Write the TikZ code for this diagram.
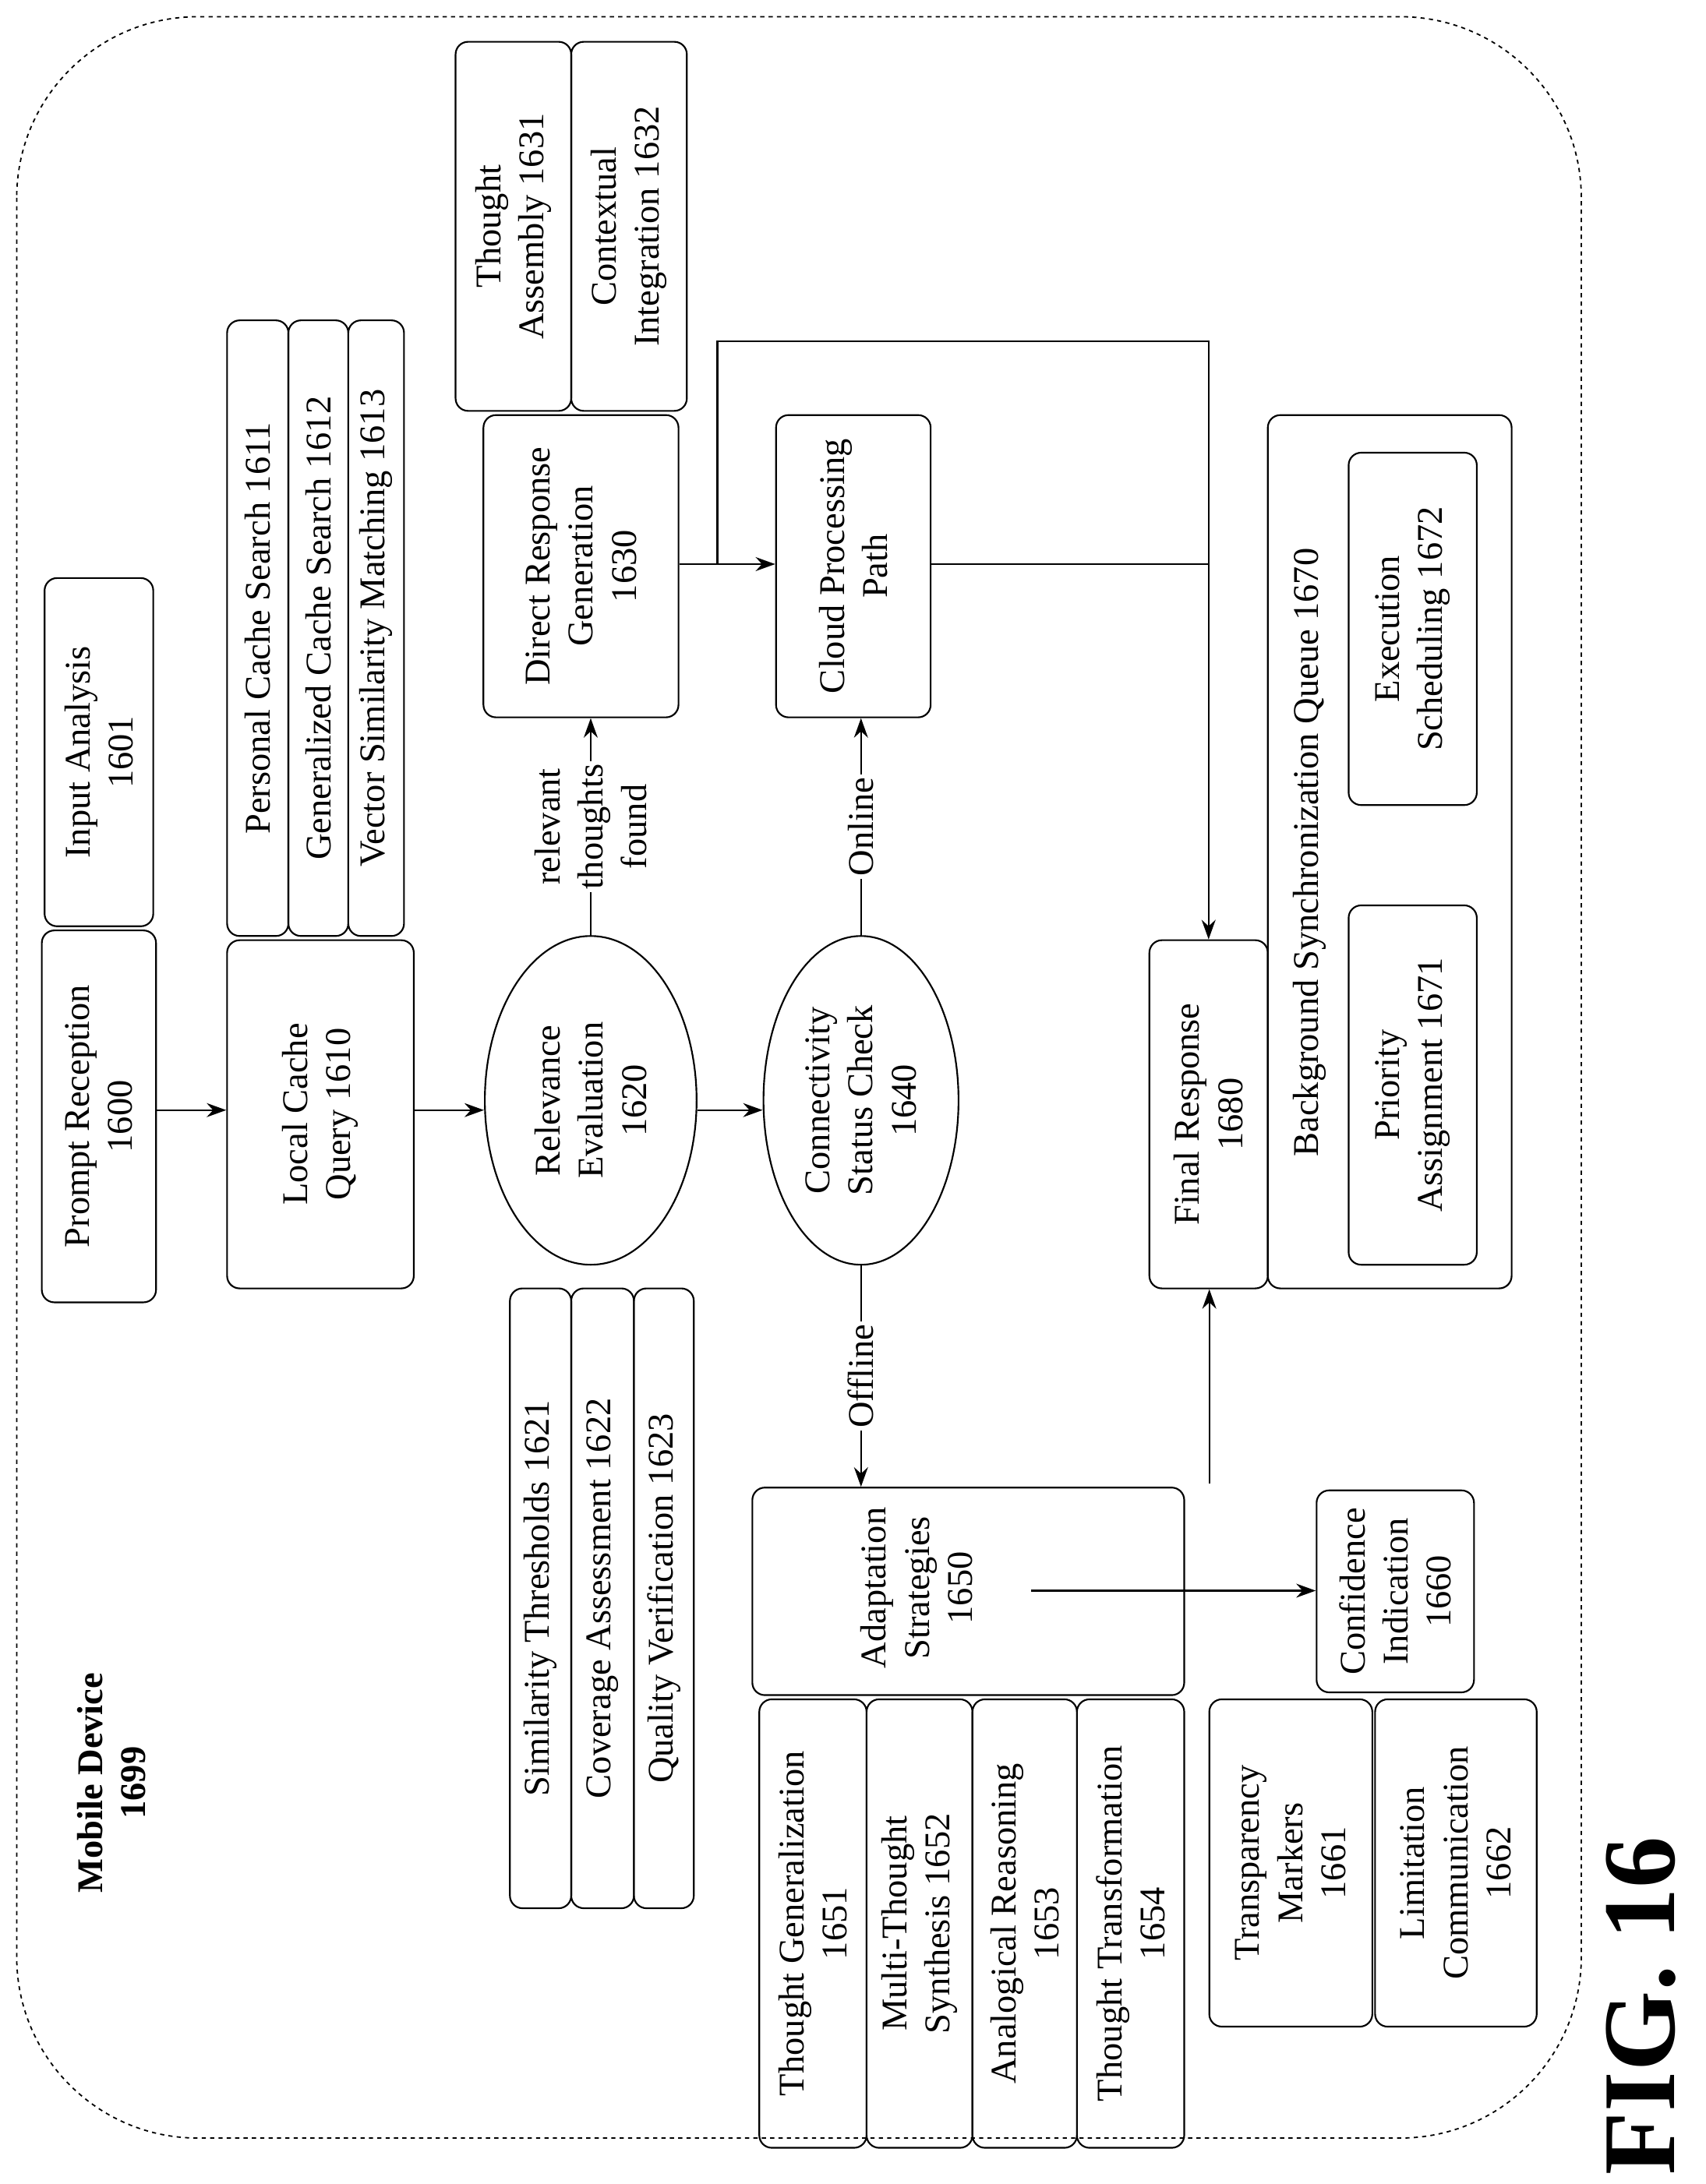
\documentclass[tikz,border=0pt]{standalone}
\usepackage{fontspec}
\setmainfont{Liberation Serif}
\usetikzlibrary{shapes.geometric,arrows.meta}
\begin{document}
\begin{tikzpicture}[x=1pt,y=-1pt,
  box/.style={draw,rounded corners=9pt,rotate=90,align=center,inner sep=1pt,font=\fontsize{26}{31}\selectfont,line width=1.2pt},
  ell/.style={draw,ellipse,rotate=90,align=center,inner sep=0pt,font=\fontsize{26}{31}\selectfont,line width=1.2pt},
  lbl/.style={rotate=90,align=center,font=\fontsize{26}{31}\selectfont,fill=white,inner sep=2pt},
  arr/.style={-{Stealth[length=14pt,width=10pt]},line width=1.3pt},
  ln/.style={line width=1.3pt}]
\newcommand\bx[6]{\node[box,minimum width={#5-#3},minimum height={#4-#2}] (#1) at ({(#2+#4)/2},{(#3+#5)/2}) {#6};}
\useasboundingbox (0,0) rectangle (1224,1568);
\draw[dashed,line width=1pt,rounded corners=130pt] (12,12) rectangle (1135,1535);
\node[rotate=90,align=center,font=\fontsize{26}{31}\selectfont\bfseries] (md) at (80,1280) {Mobile Device\\1699};
\node[rotate=90,font=\fontsize{74}{84}\selectfont\bfseries] (fig) at (1178,1440) {FIG. 16};
\bx{p1600}{30}{668}{112}{935}{Prompt Reception\\1600}
\bx{p1601}{32}{415}{110}{665}{Input Analysis\\1601}
\bx{p1610}{163}{675}{297}{925}{Local Cache\\Query 1610}
\bx{p1611}{163}{230}{207}{672}{Personal Cache Search 1611}
\bx{p1612}{207}{230}{250}{672}{Generalized Cache Search 1612}
\bx{p1613}{250}{230}{290}{672}{Vector Similarity Matching 1613}
\node[ell,minimum width=236pt,minimum height=152pt] (p1620) at (424,790) {Relevance\\Evaluation\\1620};
\bx{p1621}{366}{925}{410}{1370}{Similarity Thresholds 1621}
\bx{p1622}{410}{925}{455}{1370}{Coverage Assessment 1622}
\bx{p1623}{455}{925}{498}{1370}{Quality Verification 1623}
\bx{p1630}{347}{298}{487}{515}{Direct Response\\Generation\\1630}
\bx{p1631}{327}{30}{410}{295}{Thought\\Assembly 1631}
\bx{p1632}{410}{30}{493}{295}{Contextual\\Integration 1632}
\node[ell,minimum width=236pt,minimum height=140pt] (p1640) at (618,790) {Connectivity\\Status Check\\1640};
\bx{pcloud}{557}{298}{668}{515}{Cloud Processing\\Path}
\bx{p1650}{540}{1068}{850}{1217}{}
\node[rotate=90,align=center,font=\fontsize{26}{31}\selectfont] (t1650) at (658,1140) {Adaptation\\Strategies\\1650};
\bx{p1651}{545}{1220}{622}{1542}{Thought Generalization\\1651}
\bx{p1652}{622}{1220}{698}{1542}{Multi-Thought\\Synthesis 1652}
\bx{p1653}{698}{1220}{773}{1542}{Analogical Reasoning\\1653}
\bx{p1654}{773}{1220}{850}{1542}{Thought Transformation\\1654}
\bx{p1660}{945}{1070}{1058}{1215}{Confidence\\Indication\\1660}
\bx{p1661}{868}{1220}{985}{1455}{Transparency\\Markers\\1661}
\bx{p1662}{987}{1220}{1103}{1455}{Limitation\\Communication\\1662}
\bx{p1680}{825}{675}{910}{925}{Final Response\\1680}
\bx{p1670}{910}{298}{1085}{925}{}
\node[rotate=90,font=\fontsize{26}{31}\selectfont] (t1670) at (940,612) {Background Synchronization Queue 1670};
\bx{p1671}{968}{650}{1060}{908}{Priority\\Assignment 1671}
\bx{p1672}{968}{325}{1060}{578}{Execution\\Scheduling 1672}
% connectors
\draw[arr] (p1600.south |- 0,797) -- (p1610.north |- 0,797);
\draw[arr] (p1610.south |- 0,797) -- (p1620.north |- 0,797);
\draw[arr] (p1620.south |- 0,797) -- (p1640.north |- 0,797);
\draw[arr] (p1620.east) -- node[lbl] {relevant\\thoughts\\found} (p1630.west -| p1620.east);
\draw[arr] (p1640.east) -- node[lbl] {Online} (pcloud.west -| p1640.east);
\draw[arr] (p1640.west) -- node[lbl] {Offline} (p1650.east -| p1640.west);
\draw[arr] (p1630.south |- 0,405) -- (pcloud.north |- 0,405);
\coordinate (j1) at (515,405);
\coordinate (j2) at (868,405);
\draw[arr] (j1) -- (515,245) -| (p1680.east);
\draw[ln] (pcloud.south |- j2) -- (j2);
\coordinate (a1) at (740,1142);
\draw[arr] (a1) -- (p1660.north |- a1);
\coordinate (f1) at (868,1065);
\draw[arr] (f1) -- (p1680.west -| f1);
\end{tikzpicture}
\end{document}
